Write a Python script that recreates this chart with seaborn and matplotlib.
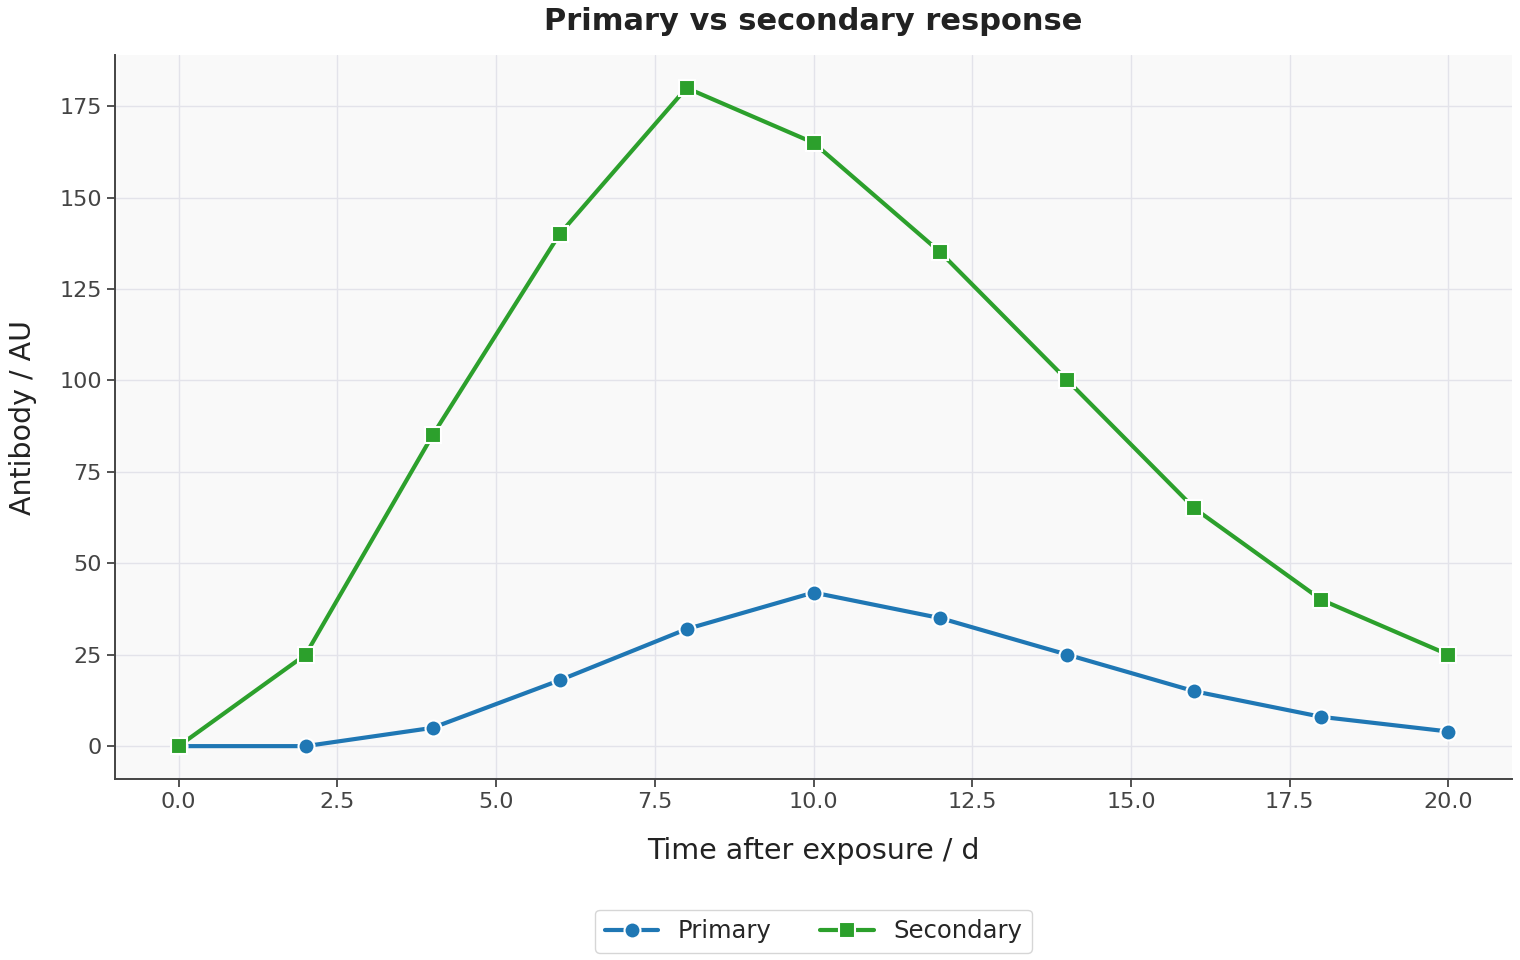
import numpy as np
import pandas as pd
import matplotlib
matplotlib.use("Agg")
import matplotlib.pyplot as plt
import seaborn as sns

# data
time_d = [0, 2, 4, 6, 8, 10, 12, 14, 16, 18, 20]
primary = [0, 0, 5, 18, 32, 42, 35, 25, 15, 8, 4]
secondary = [0, 25, 85, 140, 180, 165, 135, 100, 65, 40, 25]
series_names = ["Primary", "Secondary"]
series_colors = ["#1f77b4", "#2ca02c"]

df = pd.DataFrame(
    {
        "time": time_d * 2,
        "value": primary + secondary,
        "series": [series_names[0]] * len(time_d) + [series_names[1]] * len(time_d),
    }
)

sns.set_theme(style="ticks")
plt.rcParams["font.family"] = ["DejaVu Sans"]

fig = plt.figure(figsize=(15.2, 9.6), dpi=100)
ax = fig.add_axes([0.0757, 0.1885, 0.919, 0.7542])
ax.set_facecolor("#f9f9f9")

sns.lineplot(
    data=df,
    x="time",
    y="value",
    hue="series",
    style="series",
    palette=series_colors,
    markers=["o", "s"],
    dashes=False,
    linewidth=3,
    markersize=11.5,
    markeredgecolor="white",
    markeredgewidth=1.5,
    ax=ax,
)

ax.grid(True, color="#e3e3ea", linewidth=1.0)
ax.set_axisbelow(True)
sns.despine(ax=ax)
for side in ["left", "bottom"]:
    ax.spines[side].set_color("#444444")
    ax.spines[side].set_linewidth(1.4)
ax.tick_params(colors="#444444", labelsize=16, length=6, width=1.3)
for lab in ax.get_xticklabels() + ax.get_yticklabels():
    lab.set_color("#444444")

ax.set_title("Primary vs secondary response", fontsize=22, fontweight="bold",
             color="#222222", pad=18)
ax.set_xlabel("Time after exposure / d", fontsize=20.5, color="#222222", labelpad=18)
ax.set_ylabel("Antibody / AU", fontsize=20.5, color="#222222", labelpad=16)

ax.legend(
    loc="upper center",
    bbox_to_anchor=(0.5, -0.1635),
    ncol=2,
    frameon=True,
    fontsize=17.5,
    edgecolor="#cccccc",
    columnspacing=2.0,
    handlelength=2.2,
    title=None,
)

fig.savefig("out.png", dpi=100)
